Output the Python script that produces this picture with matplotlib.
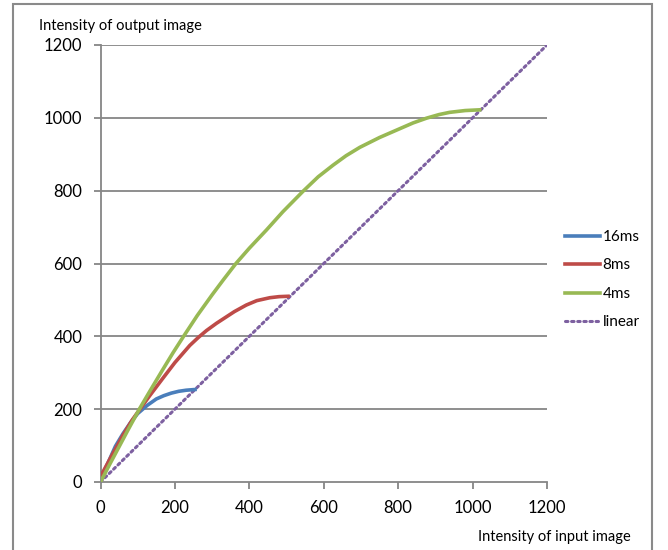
import matplotlib
matplotlib.use('Agg')
import matplotlib.pyplot as plt
from matplotlib.patches import Rectangle

plt.rcParams['font.family'] = ['Lato', 'DejaVu Sans']

# values
x16 = [0, 20, 40, 60, 80, 100, 125, 150, 170, 190, 210, 230, 254]
y16 = [8, 52, 98, 132, 162, 188, 210, 228, 237, 244, 249, 252, 254]

x8 = [0, 30, 60, 85, 106, 133, 164, 200, 240, 263, 285, 312, 330, 360, 392,
      420, 455, 480, 504]
y8 = [15, 72, 128, 170, 200, 238, 280, 328, 375, 397, 416, 436, 448, 468, 486,
      498, 506, 509, 510]

x4 = [0, 25, 50, 75, 106, 133, 164, 195, 222, 260, 300, 330, 364, 400, 446, 490,
      544, 585, 625, 660, 697, 750, 804, 840, 876, 910, 938, 980, 1019]
y4 = [0, 49, 97, 145, 203, 250, 303, 355, 398, 457, 514, 555, 600, 642, 692, 742,
      798, 838, 870, 896, 919, 946, 970, 986, 999, 1009, 1015, 1020, 1022]

xlin = [0, 1200]
ylin = [0, 1200]

ticks = [0, 200, 400, 600, 800, 1000, 1200]

fig = plt.figure(figsize=(6.68, 5.5), dpi=100)
ax = fig.add_axes([100.5/668, 1-482/550, (547-100.5)/668, (482-45)/550])

grid_c = '#868686'
for t in ticks[1:]:
    ax.axhline(t, color=grid_c, lw=1.3, zorder=1)

ax.plot(x16, y16, color='#4A7EBB', lw=2.6, label='16ms', zorder=3)
ax.plot(x8, y8, color='#BE4B48', lw=2.6, label='8ms', zorder=3)
ax.plot(x4, y4, color='#98B954', lw=2.6, label='4ms', zorder=4)
ax.plot(xlin, ylin, color='#7D60A0', lw=2.2, linestyle=(0, (0.8, 1.2)),
        dash_capstyle='round', label='linear', zorder=2)

ax.set_xlim(0, 1200)
ax.set_ylim(0, 1200)
ax.set_xticks(ticks)
ax.set_yticks(ticks)
for s in ['top', 'right']:
    ax.spines[s].set_visible(False)
for s in ['left', 'bottom']:
    ax.spines[s].set_color(grid_c)
    ax.spines[s].set_linewidth(1.3)
ax.tick_params(direction='out', length=5, width=1.3, color=grid_c,
               labelsize=12, pad=8)

fig.text(39/668, 1-30/550, 'Intensity of output image', fontsize=10.5,
         ha='left', va='baseline')
fig.text(631/668, 1-541/550, 'Intensity of input image', fontsize=10.5,
         ha='right', va='baseline')

leg = ax.legend(loc='center left', bbox_to_anchor=(1.01, 0.463), frameon=False,
                fontsize=11, handlelength=2.3, handletextpad=0.15,
                labelspacing=0.95)

fig.patches.append(Rectangle((13/668, -0.02), (652-13)/668, 1.02-4/550,
                             transform=fig.transFigure, fill=False,
                             edgecolor='#8a8a8a', lw=1.5))

fig.savefig('out.png', dpi=100)
